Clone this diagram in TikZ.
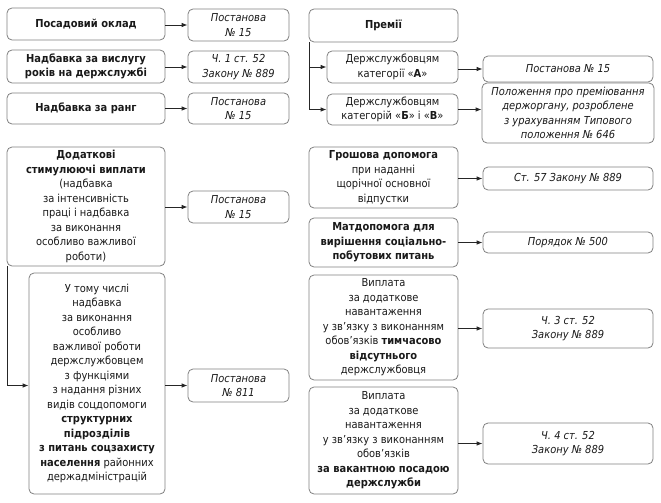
\documentclass[tikz,border=0pt]{standalone}
\usepackage{fontspec}
\setmainfont{DejaVu Sans Condensed}
\usetikzlibrary{arrows.meta,calc}
\begin{document}
\begin{tikzpicture}[x=1pt,y=-1pt,
  box/.style={draw=black!50, line width=0.8pt, rounded corners=5pt, align=center, inner sep=0pt,
    font=\fontsize{11}{14.5}\selectfont, text=black!90},
  ref/.style={box, font=\fontsize{11}{14.5}\selectfont\itshape},
  conn/.style={draw=black!85, line width=0.8pt},
  arr/.style={conn, -{Latex[length=6pt,width=4.5pt]}}]
\useasboundingbox (0,0) rectangle (661,503);
% left column
\node[box, minimum width=158pt, minimum height=32pt] (b1) at (86,24) {\textbf{Посадовий оклад}};
\node[box, minimum width=158pt, minimum height=33pt] (b2) at (86,66.5) {\textbf{Надбавка за вислугу}\\\textbf{років на держслужбі}};
\node[box, minimum width=158pt, minimum height=31pt] (b3) at (86,108.5) {\textbf{Надбавка за ранг}};
\node[ref, minimum width=101pt, minimum height=32pt] (r1) at (238.5,25) {Постанова\\№ 15};
\node[ref, minimum width=101pt, minimum height=32pt] (r2) at (238.5,67) {Ч. 1 ст. 52\\Закону № 889};
\node[ref, minimum width=101pt, minimum height=31pt] (r3) at (238.5,108.5) {Постанова\\№ 15};
\draw[arr] (b1.east |- r1.west) -- (r1.west);
\draw[arr] (b2.east |- r2.west) -- (r2.west);
\draw[arr] (b3.east |- r3.west) -- (r3.west);
% premii
\node[box, minimum width=149pt, minimum height=33pt] (prem) at (383.5,25.5) {\textbf{Премії}};
\node[box, minimum width=131pt, minimum height=32pt] (ka) at (392.5,67) {Держслужбовцям\\категорії «\textbf{А}»};
\node[box, minimum width=131pt, minimum height=31pt] (kb) at (392.5,109.5) {Держслужбовцям\\категорій «\textbf{Б}» і «\textbf{В}»};
\node[ref, minimum width=170pt, minimum height=26pt] (pa) at (568,69) {Постанова № 15};
\node[ref, minimum width=172pt, minimum height=60pt] (pb) at (568,113) {Положення про преміювання\\держоргану, розроблене\\з урахуванням Типового\\положення № 646};
\coordinate (pv) at ([xshift=1pt]prem.south west);
\draw[arr] (pv) |- (ka.west);
\draw[arr] (pv) |- (kb.west);
\draw[arr] (ka.east |- pa.west) -- (pa.west);
\draw[arr] (kb.east) -- (kb.east -| pb.west);
% dodatkovi
\node[box, minimum width=158pt, minimum height=119pt] (dod) at (86,206.5) {\textbf{Додаткові}\\\textbf{стимулюючі виплати}\\(надбавка\\за інтенсивність\\праці і надбавка\\за виконання\\особливо важливої\\роботи)};
\node[ref, minimum width=101pt, minimum height=32pt] (d15) at (238.5,207) {Постанова\\№ 15};
\draw[arr] (dod.east |- d15.west) -- (d15.west);
\node[box, minimum width=136pt, minimum height=221pt] (utc) at (97,383.5) {У тому числі\\надбавка\\за виконання\\особливо\\важливої роботи\\держслужбовцем\\з функціями\\з надання різних\\видів соцдопомоги\\\textbf{структурних}\\\textbf{підрозділів}\\\textbf{з питань соцзахисту}\\\textbf{населення} районних\\держадміністрацій};
\node[ref, minimum width=101pt, minimum height=33pt] (r811) at (238.5,385.5) {Постанова\\№ 811};
\coordinate (dv) at ([xshift=0.5pt]dod.south west);
\draw[arr] (dv) |- (utc.west |- r811.west);
\draw[arr] (utc.east |- r811.west) -- (r811.west);
% right lower
\node[box, minimum width=149pt, minimum height=61pt] (gro) at (383.5,177.5) {\textbf{Грошова допомога}\\при наданні\\щорічної основної\\відпустки};
\node[ref, minimum width=170pt, minimum height=23pt] (gr) at (568,178.5) {Ст. 57 Закону № 889};
\draw[arr] (gro.east |- gr.west) -- (gr.west);
\node[box, minimum width=149pt, minimum height=49pt] (mat) at (383.5,242.5) {\textbf{Матдопомога для}\\\textbf{вирішення соціально-}\\\textbf{побутових питань}};
\node[ref, minimum width=170pt, minimum height=21pt] (mr) at (568,242.5) {Порядок № 500};
\draw[arr] (mat.east |- mr.west) -- (mr.west);
\node[box, minimum width=149pt, minimum height=105pt] (v1) at (383.5,327.5) {Виплата\\за додаткове\\навантаження\\у зв’язку з виконанням\\обов’язків \textbf{тимчасово}\\\textbf{відсутнього}\\держслужбовця};
\node[ref, minimum width=170pt, minimum height=39pt] (v1r) at (568,328.5) {Ч. 3 ст. 52\\Закону № 889};
\draw[arr] (v1.east |- v1r.west) -- (v1r.west);
\node[box, minimum width=149pt, minimum height=107pt] (v2) at (383.5,440.5) {Виплата\\за додаткове\\навантаження\\у зв’язку з виконанням\\обов’язків\\\textbf{за вакантною посадою}\\\textbf{держслужби}};
\node[ref, minimum width=170pt, minimum height=41pt] (v2r) at (568,443.5) {Ч. 4 ст. 52\\Закону № 889};
\draw[arr] (v2.east |- v2r.west) -- (v2r.west);
\end{tikzpicture}
\end{document}
